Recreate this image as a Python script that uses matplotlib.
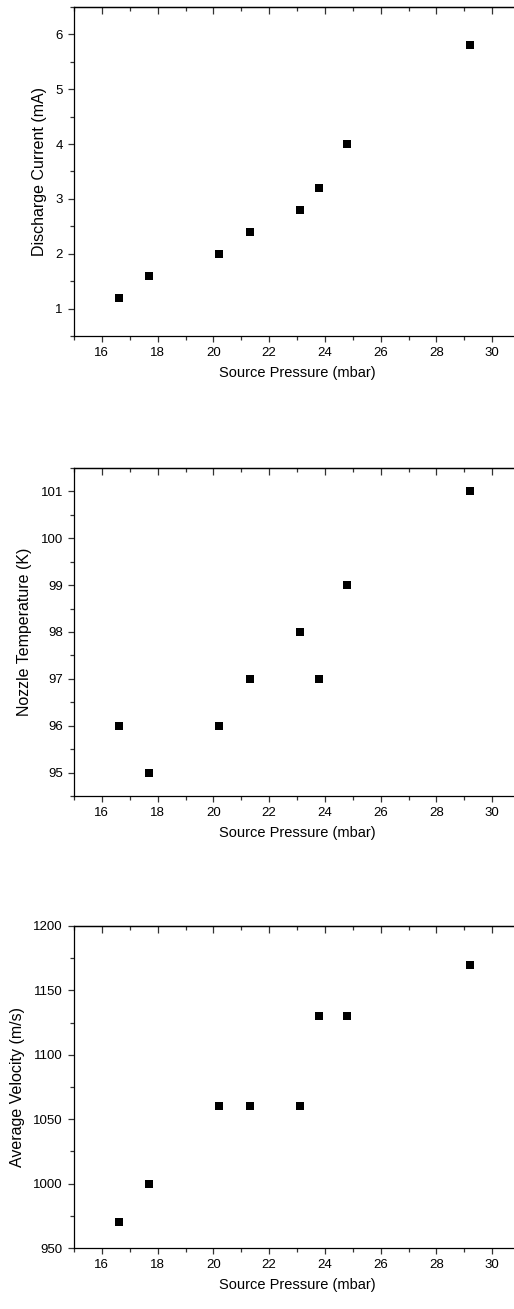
import matplotlib
matplotlib.use("Agg")
import matplotlib.pyplot as plt
from matplotlib.ticker import MultipleLocator

plt.rcParams['font.family'] = ['Liberation Sans', 'DejaVu Sans']

# source pressure (mbar), shared by all three panels
pressure = [16.6, 17.7, 20.2, 21.3, 23.1, 23.8, 24.8, 29.2]

current = [1.2, 1.6, 2.0, 2.4, 2.8, 3.2, 4.0, 5.8]
nozzle_temp = [96, 95, 96, 97, 98, 97, 99, 101]
velocity = [970, 1000, 1060, 1060, 1060, 1130, 1130, 1170]

W, H = 514, 1309
fig = plt.figure(figsize=(W / 100, H / 100), dpi=100)

# (top px, bottom px, y values, ylabel, ylim, major, minor)
panels = [
    (7, 336, current, "Discharge Current (mA)", (0.5, 6.5), 1, 0.5),
    (468, 796, nozzle_temp, "Nozzle Temperature (K)", (94.5, 101.5), 1, 0.5),
    (926, 1248, velocity, "Average Velocity (m/s)", (950, 1200), 50, 25),
]

left_px = 74
width_px = 446

for top, bot, yvals, ylabel, ylim, major, minor in panels:
    ax = fig.add_axes([left_px / W, (H - bot) / H, width_px / W, (bot - top) / H])
    ax.scatter(pressure, yvals, marker="s", s=36, color="black", linewidths=0, zorder=3)
    ax.set_xlim(15, 31)
    ax.set_ylim(*ylim)
    ax.xaxis.set_major_locator(MultipleLocator(2))
    ax.xaxis.set_minor_locator(MultipleLocator(1))
    ax.yaxis.set_major_locator(MultipleLocator(major))
    ax.yaxis.set_minor_locator(MultipleLocator(minor))
    ax.spines["right"].set_visible(False)
    for s in ax.spines.values():
        s.set_linewidth(0.9)
    ax.tick_params(axis="both", which="both", direction="out", width=0.9, labelsize=9.5,
                   colors="#333333", labelcolor="black")
    ax.tick_params(which="major", length=4.5)
    ax.tick_params(which="minor", length=3)
    # top axis with inward ticks, no labels
    sec = ax.secondary_xaxis("top")
    sec.xaxis.set_major_locator(MultipleLocator(2))
    sec.xaxis.set_minor_locator(MultipleLocator(1))
    sec.tick_params(which="both", direction="in", labeltop=False, width=0.9, colors="#333333")
    sec.tick_params(which="major", length=5)
    sec.tick_params(which="minor", length=3)
    sec.spines["top"].set_linewidth(0.9)
    ax.set_xlabel("Source Pressure (mbar)", fontsize=10.5, labelpad=5)
    ax.set_ylabel(ylabel, fontsize=11.5, labelpad=6)

fig.savefig("out.png", dpi=100)
